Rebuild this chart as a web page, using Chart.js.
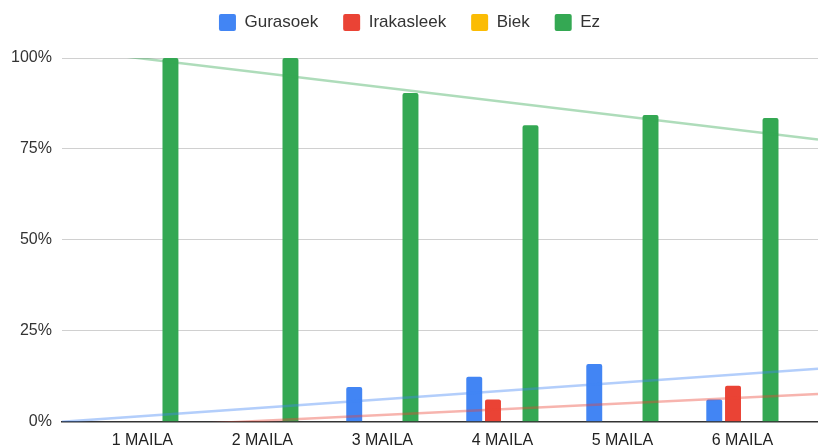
<!DOCTYPE html>
<html>
<head>
<meta charset="utf-8">
<script src="https://cdn.jsdelivr.net/npm/chart.js@4"></script>
<style>
  html, body { margin: 0; padding: 0; background: #fff; }
  #wrap { width: 818px; height: 446px; position: relative; }
</style>
</head>
<body>
<div id="wrap"><canvas id="mailaChart"></canvas></div>
<script>
// Categories and series (percent)
const categories = ["1 MAILA", "2 MAILA", "3 MAILA", "4 MAILA", "5 MAILA", "6 MAILA"];
const gurasoek = [0, 0, 9.6, 12.4, 15.9, 6.1];
const irakasleek = [0, 0, 0, 6.1, 0, 9.9];
const biek = [0, 0, 0, 0, 0, 0];
const ez = [100, 100, 90.4, 81.5, 84.3, 83.5];
const yTicks = [0, 25, 50, 75, 100];

const X_MIN = 0.33;
const X_MAX = 6.63;

function points(values) {
  return values.map((v, i) => ({ x: i + 1, y: v }));
}

// least squares trendline over x = 1..n, drawn across the whole axis
function trend(values) {
  const n = values.length;
  const xs = values.map((v, i) => i + 1);
  const mx = xs.reduce((a, b) => a + b, 0) / n;
  const my = values.reduce((a, b) => a + b, 0) / n;
  let sxy = 0, sxx = 0;
  for (let i = 0; i < n; i++) {
    sxy += (xs[i] - mx) * (values[i] - my);
    sxx += (xs[i] - mx) * (xs[i] - mx);
  }
  const slope = sxy / sxx;
  const at = (x) => my + slope * (x - mx);
  return [{ x: X_MIN, y: at(X_MIN) }, { x: X_MAX, y: at(X_MAX) }];
}

const barDefaults = {
  type: "bar",
  order: 1,
  borderRadius: { topLeft: 2, topRight: 2 },
  borderSkipped: "bottom",
  categoryPercentage: 0.625,
  barPercentage: 0.85,
};

function trendLine(values, color) {
  return {
    type: "line",
    order: 0,
    data: trend(values),
    borderColor: color,
    borderWidth: 2.5,
    pointRadius: 0,
    fill: false,
  };
}

// push the plot down a bit below the legend
const legendGap = {
  id: "legendGap",
  beforeInit(chart) {
    const fit = chart.legend.fit;
    chart.legend.fit = function () {
      fit.bind(chart.legend)();
      this.height += 17;
    };
  },
};

const FONT = "'Liberation Sans', Arial, sans-serif";

const ctx = document.getElementById("mailaChart");
new Chart(ctx, {
  data: {
    datasets: [
      { ...barDefaults, label: "Gurasoek", data: points(gurasoek), backgroundColor: "#4285F4" },
      { ...barDefaults, label: "Irakasleek", data: points(irakasleek), backgroundColor: "#EA4335" },
      { ...barDefaults, label: "Biek", data: points(biek), backgroundColor: "#FBBC04" },
      { ...barDefaults, label: "Ez", data: points(ez), backgroundColor: "#34A853" },
      trendLine(gurasoek, "rgba(66,133,244,0.4)"),
      trendLine(irakasleek, "rgba(234,67,53,0.4)"),
      trendLine(ez, "rgba(52,168,83,0.4)"),
    ],
  },
  plugins: [legendGap],
  options: {
    responsive: true,
    maintainAspectRatio: false,
    animation: false,
    layout: { padding: { left: 1, right: 0, top: -11, bottom: -13 } },
    plugins: {
      tooltip: { enabled: false },
      legend: {
        position: "top",
        labels: {
          color: "#333",
          font: { family: FONT, size: 17 },
          boxWidth: 17,
          boxHeight: 17,
          padding: 25,
          filter: (item) => item.datasetIndex < 4,
          useBorderRadius: true,
          borderRadius: 2,
        },
      },
    },
    scales: {
      x: {
        type: "linear",
        min: X_MIN,
        max: X_MAX,
        offset: false,
        afterBuildTicks: (scale) => {
          scale.ticks = categories.map((c, i) => ({ value: i + 1 }));
        },
        ticks: {
          color: "#222",
          padding: 9,
          font: { family: FONT, size: 16 },
          callback: (v) => categories[v - 1],
          maxRotation: 0,
          autoSkip: false,
        },
        grid: { display: false, drawTicks: false, offset: false },
        border: { display: true, color: "#333", width: 1.5 },
      },
      y: {
        min: 0,
        max: 100,
        afterBuildTicks: (scale) => {
          scale.ticks = yTicks.map((v) => ({ value: v }));
        },
        ticks: {
          color: "#333",
          padding: 10,
          font: { family: FONT, size: 16 },
          callback: (v) => v + "%",
        },
        grid: {
          color: (c) => (c.tick && c.tick.value === 0 ? "rgba(0,0,0,0)" : "#d0d0d0"),
          lineWidth: 1,
          drawTicks: false,
        },
        border: { display: false },
      },
    },
  },
});
</script>
</body>
</html>
